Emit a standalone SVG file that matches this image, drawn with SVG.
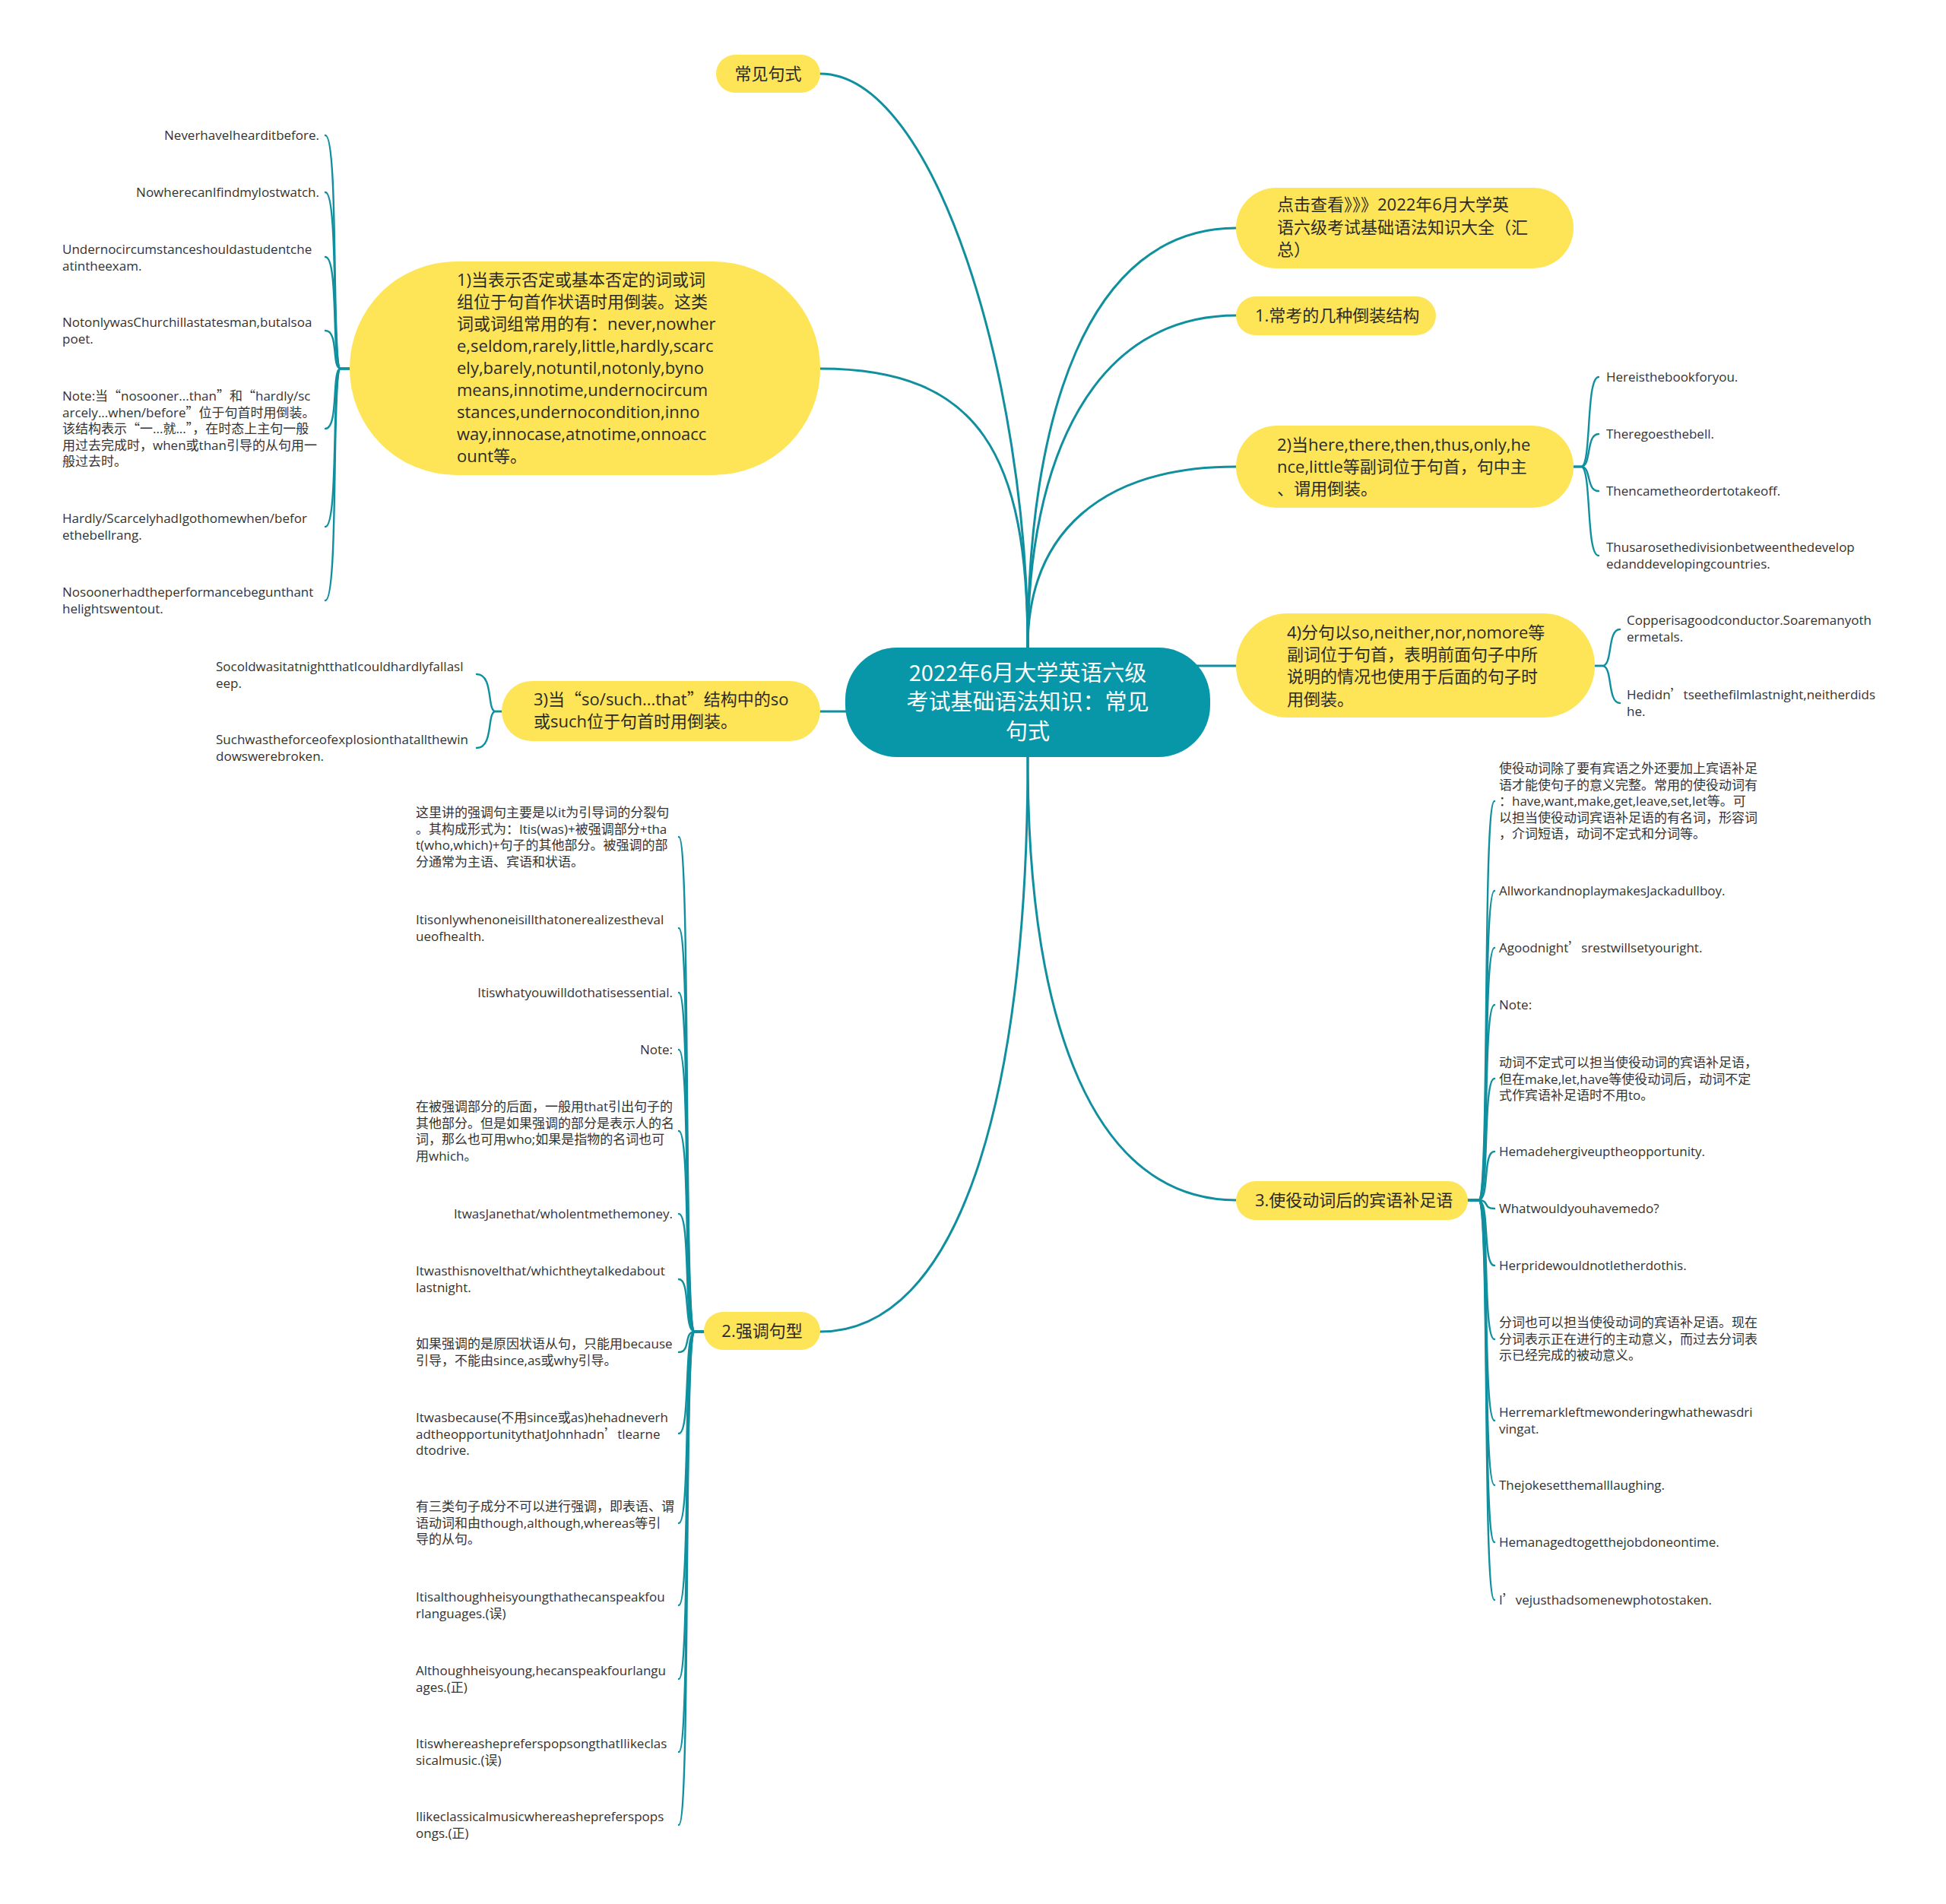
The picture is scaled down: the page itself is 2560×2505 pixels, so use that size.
<svg xmlns="http://www.w3.org/2000/svg" width="2560" height="2505" viewBox="0 0 2560 2505">
<style>
.bg{fill:#ffffff}
.c{fill:none;stroke:#10909f;stroke-width:3;stroke-linecap:round}
.cc{fill:none;stroke:#10909f;stroke-width:2.4;stroke-linecap:round}
.y{fill:#fee557}
.root{fill:#0897a8}
.rt{font-family:"Noto Sans CJK SC","Open Sans",sans-serif;font-size:29px;fill:#ffffff;text-anchor:middle}
.n{font-family:"Open Sans","Noto Sans CJK SC",sans-serif;font-size:22px;fill:#2a2a2a}
.nm{font-family:"Open Sans","Noto Sans CJK SC",sans-serif;font-size:22px;fill:#2a2a2a;text-anchor:middle}
.t{font-family:"Open Sans","Noto Sans CJK SC",sans-serif;font-size:17px;fill:#333333}
.te{font-family:"Open Sans","Noto Sans CJK SC",sans-serif;font-size:17px;fill:#333333;text-anchor:end}
.q{font-family:"Noto Sans CJK SC",sans-serif}
</style>
<rect class="bg" x="0" y="0" width="2560" height="2505"/>

<g id="connectors">
<path class="c" d="M1352 852 C1352 500 1230 97 1079 97"/>
<path class="c" d="M1352 852 C1352 600 1290 485 1079 485"/>
<path class="c" d="M1352 852 C1352 550 1430 300 1626 300"/>
<path class="c" d="M1352 852 C1352 600 1440 415 1626 415"/>
<path class="c" d="M1352 852 C1352 700 1450 614 1626 614"/>
<path class="c" d="M1560 876 H1626"/>
<path class="c" d="M1140 936 H1079"/>
<path class="c" d="M1352 996 C1352 1350 1440 1579 1626 1579"/>
<path class="c" d="M1352 996 C1352 1450 1260 1752 1079 1752"/>

<path class="cc" d="M460 485 H448 C436 485 446 178 428 178"/>
<path class="cc" d="M460 485 H448 C436 485 446 253 428 253"/>
<path class="cc" d="M460 485 H448 C436 485 446 338 428 338"/>
<path class="cc" d="M460 485 H448 C436 485 446 435 428 435"/>
<path class="cc" d="M460 485 H448 C436 485 446 564 428 564"/>
<path class="cc" d="M460 485 H448 C436 485 446 693 428 693"/>
<path class="cc" d="M460 485 H448 C436 485 446 790 428 790"/>

<path class="cc" d="M660 936 H652 C640 936 650 887 627 887"/>
<path class="cc" d="M660 936 H652 C640 936 650 984 627 984"/>

<path class="cc" d="M2070 614 H2080 C2094 614 2086 496 2103 496"/>
<path class="cc" d="M2070 614 H2080 C2094 614 2086 571 2103 571"/>
<path class="cc" d="M2070 614 H2080 C2094 614 2086 646 2103 646"/>
<path class="cc" d="M2070 614 H2080 C2094 614 2086 731 2103 731"/>

<path class="cc" d="M2098 876 H2108 C2122 876 2114 828 2131 828"/>
<path class="cc" d="M2098 876 H2108 C2122 876 2114 925 2131 925"/>

<path class="cc" d="M1931 1579 H1945 C1960 1579 1950 1054 1966 1054"/>
<path class="cc" d="M1931 1579 H1945 C1960 1579 1950 1172 1966 1172"/>
<path class="cc" d="M1931 1579 H1945 C1960 1579 1950 1247 1966 1247"/>
<path class="cc" d="M1931 1579 H1945 C1960 1579 1950 1322 1966 1322"/>
<path class="cc" d="M1931 1579 H1945 C1960 1579 1950 1419 1966 1419"/>
<path class="cc" d="M1931 1579 H1945 C1960 1579 1950 1515 1966 1515"/>
<path class="cc" d="M1931 1579 H1945 C1960 1579 1950 1590 1966 1590"/>
<path class="cc" d="M1931 1579 H1945 C1960 1579 1950 1665 1966 1665"/>
<path class="cc" d="M1931 1579 H1945 C1960 1579 1950 1762 1966 1762"/>
<path class="cc" d="M1931 1579 H1945 C1960 1579 1950 1869 1966 1869"/>
<path class="cc" d="M1931 1579 H1945 C1960 1579 1950 1954 1966 1954"/>
<path class="cc" d="M1931 1579 H1945 C1960 1579 1950 2029 1966 2029"/>
<path class="cc" d="M1931 1579 H1945 C1960 1579 1950 2105 1966 2105"/>

<path class="cc" d="M926 1752 H914 C899 1752 909 1101 893 1101"/>
<path class="cc" d="M926 1752 H914 C899 1752 909 1221 893 1221"/>
<path class="cc" d="M926 1752 H914 C899 1752 909 1306 893 1306"/>
<path class="cc" d="M926 1752 H914 C899 1752 909 1381 893 1381"/>
<path class="cc" d="M926 1752 H914 C899 1752 909 1488 893 1488"/>
<path class="cc" d="M926 1752 H914 C899 1752 909 1597 893 1597"/>
<path class="cc" d="M926 1752 H914 C899 1752 909 1683 893 1683"/>
<path class="cc" d="M926 1752 H914 C899 1752 909 1779 893 1779"/>
<path class="cc" d="M926 1752 H914 C899 1752 909 1886 893 1886"/>
<path class="cc" d="M926 1752 H914 C899 1752 909 2004 893 2004"/>
<path class="cc" d="M926 1752 H914 C899 1752 909 2112 893 2112"/>
<path class="cc" d="M926 1752 H914 C899 1752 909 2209 893 2209"/>
<path class="cc" d="M926 1752 H914 C899 1752 909 2305 893 2305"/>
<path class="cc" d="M926 1752 H914 C899 1752 909 2401 893 2401"/>
</g>

<g id="root">
<rect class="root" x="1112" y="852" width="480" height="144" rx="68"/>
<text class="rt" x="1352" y="896">2022年6月大学英语六级</text>
<text class="rt" x="1352" y="934">考试基础语法知识：常见</text>
<text class="rt" x="1352" y="973">句式</text>
</g>

<g id="n-changjian">
<rect class="y" x="942" y="72" width="137" height="50" rx="25"/>
<text class="nm" x="1010.5" y="105">常见句式</text>
</g>

<g id="n-link">
<rect class="y" x="1626" y="247" width="444" height="106" rx="53"/>
<text class="n" x="1680" y="277">点击查看》》》2022年6月大学英</text>
<text class="n" x="1680" y="307">语六级考试基础语法知识大全（汇</text>
<text class="n" x="1680" y="336">总）</text>
</g>

<g id="n-1">
<rect class="y" x="1626" y="390" width="263" height="51" rx="25.5"/>
<text class="n" x="1651" y="423">1.常考的几种倒装结构</text>
</g>

<g id="n-2here">
<rect class="y" x="1626" y="560" width="444" height="108" rx="54"/>
<text class="n" x="1680" y="593">2)当here,there,then,thus,only,he</text>
<text class="n" x="1680" y="622">nce,little等副词位于句首，句中主</text>
<text class="n" x="1680" y="651">、谓用倒装。</text>
</g>

<g id="n-4so">
<rect class="y" x="1626" y="807" width="472" height="137" rx="68"/>
<text class="n" x="1693" y="840">4)分句以so,neither,nor,nomore等</text>
<text class="n" x="1693" y="869">副词位于句首，表明前面句子中所</text>
<text class="n" x="1693" y="898">说明的情况也使用于后面的句子时</text>
<text class="n" x="1693" y="928">用倒装。</text>
</g>

<g id="n-3shiyi">
<rect class="y" x="1626" y="1554" width="305" height="51" rx="25.5"/>
<text class="n" x="1651" y="1587">3.使役动词后的宾语补足语</text>
</g>

<g id="n-2qiang">
<rect class="y" x="926" y="1726" width="153" height="50" rx="25"/>
<text class="nm" x="1002.5" y="1759">2.强调句型</text>
</g>

<g id="n-3sosuch">
<rect class="y" x="660" y="896" width="419" height="79" rx="39.5"/>
<text class="n" x="702" y="928">3)当<tspan class="q">“</tspan>so/such...that<tspan class="q">”</tspan>结构中的so</text>
<text class="n" x="702" y="957">或such位于句首时用倒装。</text>
</g>

<g id="n-1neg">
<rect class="y" x="460" y="344" width="619" height="281" rx="140"/>
<text class="n" x="601" y="376">1)当表示否定或基本否定的词或词</text>
<text class="n" x="601" y="405">组位于句首作状语时用倒装。这类</text>
<text class="n" x="601" y="434">词或词组常用的有：never,nowher</text>
<text class="n" x="601" y="463">e,seldom,rarely,little,hardly,scarc</text>
<text class="n" x="601" y="492">ely,barely,notuntil,notonly,byno</text>
<text class="n" x="601" y="521">means,innotime,undernocircum</text>
<text class="n" x="601" y="550">stances,undernocondition,inno</text>
<text class="n" x="601" y="579">way,innocase,atnotime,onnoacc</text>
<text class="n" x="601" y="608">ount等。</text>
</g>

<g id="c1-1"><text class="te" x="420" y="184">NeverhaveIhearditbefore.</text></g>
<g id="c1-2"><text class="te" x="420" y="259">NowherecanIfindmylostwatch.</text></g>
<g id="c1-3"><text class="t" x="82" y="334">Undernocircumstanceshouldastudentche<tspan x="82" dy="21.5">atintheexam.</tspan></text></g>
<g id="c1-4"><text class="t" x="82" y="430">NotonlywasChurchillastatesman,butalsoa<tspan x="82" dy="21.5">poet.</tspan></text></g>
<g id="c1-5"><text class="t" x="82" y="527">Note:当<tspan class="q">“</tspan>nosooner...than<tspan class="q">”</tspan>和<tspan class="q">“</tspan>hardly/sc<tspan x="82" dy="21.5">arcely...when/before<tspan class="q">”</tspan>位于句首时用倒装。</tspan><tspan x="82" dy="21.5">该结构表示<tspan class="q">“</tspan>一...就...<tspan class="q">”</tspan>，在时态上主句一般</tspan><tspan x="82" dy="21.5">用过去完成时，when或than引导的从句用一</tspan><tspan x="82" dy="21.5">般过去时。</tspan></text></g>
<g id="c1-6"><text class="t" x="82" y="688">Hardly/ScarcelyhadIgothomewhen/befor<tspan x="82" dy="21.5">ethebellrang.</tspan></text></g>
<g id="c1-7"><text class="t" x="82" y="785">Nosoonerhadtheperformancebegunthant<tspan x="82" dy="21.5">helightswentout.</tspan></text></g>

<g id="c3s-1"><text class="t" x="284" y="883">SocoldwasitatnightthatIcouldhardlyfallasl<tspan x="284" dy="21.5">eep.</tspan></text></g>
<g id="c3s-2"><text class="t" x="284" y="979">Suchwastheforceofexplosionthatallthewin<tspan x="284" dy="21.5">dowswerebroken.</tspan></text></g>

<g id="c2h-1"><text class="t" x="2113" y="502">Hereisthebookforyou.</text></g>
<g id="c2h-2"><text class="t" x="2113" y="577">Theregoesthebell.</text></g>
<g id="c2h-3"><text class="t" x="2113" y="652">Thencametheordertotakeoff.</text></g>
<g id="c2h-4"><text class="t" x="2113" y="726">Thusarosethedivisionbetweenthedevelop<tspan x="2113" dy="21.5">edanddevelopingcountries.</tspan></text></g>

<g id="c4-1"><text class="t" x="2140" y="822">Copperisagoodconductor.Soaremanyoth<tspan x="2140" dy="21.5">ermetals.</tspan></text></g>
<g id="c4-2"><text class="t" x="2140" y="920">Hedidn<tspan class="q">’</tspan>tseethefilmlastnight,neitherdids<tspan x="2140" dy="21.5">he.</tspan></text></g>

<g id="c3y-1"><text class="t" x="1972" y="1017">使役动词除了要有宾语之外还要加上宾语补足<tspan x="1972" dy="21.5">语才能使句子的意义完整。常用的使役动词有</tspan><tspan x="1972" dy="21.5">：have,want,make,get,leave,set,let等。可</tspan><tspan x="1972" dy="21.5">以担当使役动词宾语补足语的有名词，形容词</tspan><tspan x="1972" dy="21.5">，介词短语，动词不定式和分词等。</tspan></text></g>
<g id="c3y-2"><text class="t" x="1972" y="1178">AllworkandnoplaymakesJackadullboy.</text></g>
<g id="c3y-3"><text class="t" x="1972" y="1253">Agoodnight<tspan class="q">’</tspan>srestwillsetyouright.</text></g>
<g id="c3y-4"><text class="t" x="1972" y="1328">Note:</text></g>
<g id="c3y-5"><text class="t" x="1972" y="1404">动词不定式可以担当使役动词的宾语补足语，<tspan x="1972" dy="21.5">但在make,let,have等使役动词后，动词不定</tspan><tspan x="1972" dy="21.5">式作宾语补足语时不用to。</tspan></text></g>
<g id="c3y-6"><text class="t" x="1972" y="1521">Hemadehergiveuptheopportunity.</text></g>
<g id="c3y-7"><text class="t" x="1972" y="1596">Whatwouldyouhavemedo?</text></g>
<g id="c3y-8"><text class="t" x="1972" y="1671">Herpridewouldnotletherdothis.</text></g>
<g id="c3y-9"><text class="t" x="1972" y="1746">分词也可以担当使役动词的宾语补足语。现在<tspan x="1972" dy="21.5">分词表示正在进行的主动意义，而过去分词表</tspan><tspan x="1972" dy="21.5">示已经完成的被动意义。</tspan></text></g>
<g id="c3y-10"><text class="t" x="1972" y="1864">Herremarkleftmewonderingwhathewasdri<tspan x="1972" dy="21.5">vingat.</tspan></text></g>
<g id="c3y-11"><text class="t" x="1972" y="1960">Thejokesetthemalllaughing.</text></g>
<g id="c3y-12"><text class="t" x="1972" y="2035">Hemanagedtogetthejobdoneontime.</text></g>
<g id="c3y-13"><text class="t" x="1972" y="2111">I<tspan class="q">’</tspan>vejusthadsomenewphotostaken.</text></g>

<g id="c2q-1"><text class="t" x="547" y="1075">这里讲的强调句主要是以it为引导词的分裂句<tspan x="547" dy="21.5">。其构成形式为：Itis(was)+被强调部分+tha</tspan><tspan x="547" dy="21.5">t(who,which)+句子的其他部分。被强调的部</tspan><tspan x="547" dy="21.5">分通常为主语、宾语和状语。</tspan></text></g>
<g id="c2q-2"><text class="t" x="547" y="1216">Itisonlywhenoneisillthatonerealizestheval<tspan x="547" dy="21.5">ueofhealth.</tspan></text></g>
<g id="c2q-3"><text class="te" x="885" y="1312">Itiswhatyouwilldothatisessential.</text></g>
<g id="c2q-4"><text class="te" x="885" y="1387">Note:</text></g>
<g id="c2q-5"><text class="t" x="547" y="1462">在被强调部分的后面，一般用that引出句子的<tspan x="547" dy="21.5">其他部分。但是如果强调的部分是表示人的名</tspan><tspan x="547" dy="21.5">词，那么也可用who;如果是指物的名词也可</tspan><tspan x="547" dy="21.5">用which。</tspan></text></g>
<g id="c2q-6"><text class="te" x="885" y="1603">ItwasJanethat/wholentmethemoney.</text></g>
<g id="c2q-7"><text class="t" x="547" y="1678">Itwasthisnovelthat/whichtheytalkedabout<tspan x="547" dy="21.5">lastnight.</tspan></text></g>
<g id="c2q-8"><text class="t" x="547" y="1774">如果强调的是原因状语从句，只能用because<tspan x="547" dy="21.5">引导，不能由since,as或why引导。</tspan></text></g>
<g id="c2q-9"><text class="t" x="547" y="1871">Itwasbecause(不用since或as)hehadneverh<tspan x="547" dy="21.5">adtheopportunitythatJohnhadn<tspan class="q">’</tspan>tlearne</tspan><tspan x="547" dy="21.5">dtodrive.</tspan></text></g>
<g id="c2q-10"><text class="t" x="547" y="1988">有三类句子成分不可以进行强调，即表语、谓<tspan x="547" dy="21.5">语动词和由though,although,whereas等引</tspan><tspan x="547" dy="21.5">导的从句。</tspan></text></g>
<g id="c2q-11"><text class="t" x="547" y="2107">Itisalthoughheisyoungthathecanspeakfou<tspan x="547" dy="21.5">rlanguages.(误)</tspan></text></g>
<g id="c2q-12"><text class="t" x="547" y="2204">Althoughheisyoung,hecanspeakfourlangu<tspan x="547" dy="21.5">ages.(正)</tspan></text></g>
<g id="c2q-13"><text class="t" x="547" y="2300">ItiswhereashepreferspopsongthatIlikeclas<tspan x="547" dy="21.5">sicalmusic.(误)</tspan></text></g>
<g id="c2q-14"><text class="t" x="547" y="2396">Ilikeclassicalmusicwhereashepreferspops<tspan x="547" dy="21.5">ongs.(正)</tspan></text></g>
</svg>
